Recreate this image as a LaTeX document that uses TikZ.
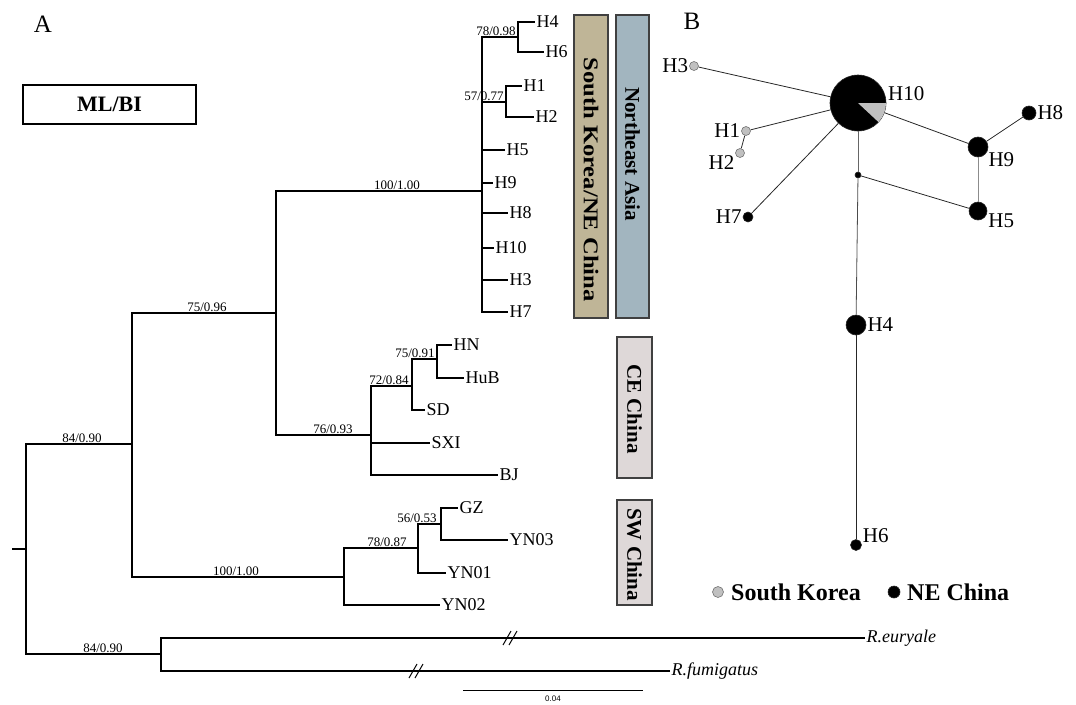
\documentclass[tikz,border=0pt]{standalone}
\usepackage{fontspec}
\setmainfont{Liberation Serif}
\setsansfont{Liberation Sans}
\definecolor{sktan}{RGB}{191,181,151}
\definecolor{neblue}{RGB}{162,181,191}
\definecolor{chbox}{RGB}{222,216,216}
\definecolor{skgray}{RGB}{192,192,192}
\begin{document}
\begin{tikzpicture}[x=1pt,y=-1pt,
  br/.style={line width=1.5pt},
  tip/.style={anchor=west, inner sep=1.5pt, font=\fontsize{18}{20}\selectfont},
  bs/.style={anchor=south, inner sep=1.5pt, font=\fontsize{13}{14}\selectfont},
  bar/.style={draw=black!75, line width=1.2pt, rotate=-90, inner sep=0pt, font=\fontsize{21}{23}\selectfont\bfseries},
  hap/.style={circle, inner sep=0pt, draw=black!85, line width=0.6pt},
  skhap/.style={hap, fill=skgray, draw=black!55},
  nehap/.style={hap, fill=black},
  nl/.style={font=\fontsize{21}{23}\selectfont, inner sep=1pt},
  lk/.style={draw=black!85, line width=0.8pt}]
\useasboundingbox (0,0) rectangle (1076,704);

\node[font=\fontsize{25}{27}\selectfont] (pa) at (43,24) {A};
\node[font=\fontsize{25}{27}\selectfont] (pb) at (692,21) {B};
\node[draw, line width=1.5pt, minimum width=173pt, minimum height=39pt, font=\fontsize{22}{24}\selectfont\bfseries] (mlbi) at (109.5,104.5) {ML/BI};

\coordinate (r0) at (12,549);
\coordinate (r) at (26,549);
\coordinate (ing) at (132,444);
\coordinate (out) at (161,654);
\coordinate (nc) at (276,313);
\coordinate (sw) at (344,577);
\coordinate (ne) at (482,191);
\coordinate (ce) at (371,435);
\coordinate (n46) at (518,37);
\coordinate (n12) at (506,102);
\coordinate (c72) at (412,386);
\coordinate (c75) at (437,359);
\coordinate (s78) at (418,548);
\coordinate (s56) at (441,524);

\node[tip] (tH4) at (535,22) {H4};
\node[tip] (tH6) at (544,52) {H6};
\node[tip] (tH1) at (522,86) {H1};
\node[tip] (tH2) at (534,117) {H2};
\node[tip] (tH5) at (505,150) {H5};
\node[tip] (tH9) at (493,183) {H9};
\node[tip] (tH8) at (508,213) {H8};
\node[tip] (tH10) at (494,248) {H10};
\node[tip] (tH3) at (508,280) {H3};
\node[tip] (tH7) at (508,312) {H7};
\node[tip] (tHN) at (452,345) {HN};
\node[tip] (tHuB) at (464,378) {HuB};
\node[tip] (tSD) at (425,410) {SD};
\node[tip] (tSXI) at (430,443) {SXI};
\node[tip] (tBJ) at (498,475) {BJ};
\node[tip] (tGZ) at (458,508) {GZ};
\node[tip] (tYN03) at (508,540) {YN03};
\node[tip] (tYN01) at (446,573) {YN01};
\node[tip] (tYN02) at (440,605) {YN02};
\node[tip, font=\fontsize{18}{20}\selectfont\itshape] (teur) at (865,638) {R.euryale};
\node[tip, font=\fontsize{18}{20}\selectfont\itshape] (tfum) at (670,671) {R.fumigatus};

\draw[br] (r0) -- (r);
\draw[br] (r) |- (ing);
\draw[br] (r) |- (out);
\draw[br] (ing) |- (nc);
\draw[br] (ing) |- (sw);
\draw[br] (nc) |- (ne);
\draw[br] (nc) |- (ce);
\draw[br] (ne) |- (n46);
\draw[br] (ne) |- (n12);
\foreach \t in {tH5,tH9,tH8,tH10,tH3,tH7}
  \draw[br] (ne) |- (\t);
\draw[br] (n46) |- (tH4);
\draw[br] (n46) |- (tH6);
\draw[br] (n12) |- (tH1);
\draw[br] (n12) |- (tH2);
\draw[br] (ce) |- (c72);
\draw[br] (ce) |- (tSXI);
\draw[br] (ce) |- (tBJ);
\draw[br] (c72) |- (c75);
\draw[br] (c72) |- (tSD);
\draw[br] (c75) |- (tHN);
\draw[br] (c75) |- (tHuB);
\draw[br] (sw) |- (s78);
\draw[br] (sw) |- (tYN02);
\draw[br] (s78) |- (s56);
\draw[br] (s78) |- (tYN01);
\draw[br] (s56) |- (tGZ);
\draw[br] (s56) |- (tYN03);
\draw[br] (out) |- (teur);
\draw[br] (out) |- (tfum);
\draw[line width=1pt] (503,645) -- (511,631) (509,645) -- (517,631);
\draw[line width=1pt] (409,678) -- (417,664) (415,678) -- (423,664);

\node[bs] (b1) at (82,444) {84/0.90};
\node[bs] (b2) at (103,654) {84/0.90};
\node[bs] (b3) at (207,313) {75/0.96};
\node[bs] (b4) at (397,191) {100/1.00};
\node[bs] (b5) at (236,577) {100/1.00};
\node[bs] (b6) at (333,435) {76/0.93};
\node[bs] (b7) at (389,386) {72/0.84};
\node[bs] (b8) at (415,359) {75/0.91};
\node[bs] (b9) at (387,548) {78/0.87};
\node[bs] (b10) at (417,524) {56/0.53};
\node[bs] (b11) at (496,37) {78/0.98};
\node[bs] (b12) at (484,102) {57/0.77};

\node[bar, fill=sktan, minimum width=303pt, minimum height=34pt] (bsk) at (591,166.5) {\hspace*{26pt}\scalebox{1.17}[1]{South Korea/NE China}};
\node[bar, fill=neblue, minimum width=303pt, minimum height=33pt] (bna) at (632.5,166.5) {Northeast Asia\hspace*{25pt}};
\node[bar, fill=chbox, minimum width=141pt, minimum height=35pt] (bce) at (634.5,407.5) {\hspace*{3pt}CE China};
\node[bar, fill=chbox, minimum width=105pt, minimum height=35pt] (bsw) at (634.5,552.5) {\hspace*{4pt}SW China};

\coordinate (sc1) at (463,690);
\coordinate (sc2) at (643,690);
\draw[line width=0.6pt] (sc1) -- (sc2) node[midway, below=2pt, font=\sffamily\fontsize{8}{9}\selectfont] (sclab) {0.04};

\node[nehap, minimum size=56pt] (hH10) at (858,103) {};
\fill[skgray] (hH10.center) -- ++(28pt,0pt) arc[start angle=0, end angle=-43, radius=28pt] -- cycle;
\node[nl, anchor=west] (lH10) at (887,94) {H10};
\node[skhap, minimum size=9pt, label={[nl]west:H3}] (hH3) at (694,66) {};
\node[skhap, minimum size=9pt, label={[nl]west:H1}] (hH1) at (746,131) {};
\node[skhap, minimum size=9pt, label={[nl]200:H2}] (hH2) at (740,153) {};
\node[nehap, minimum size=10pt, label={[nl]west:H7}] (hH7) at (748,217) {};
\node[nehap, minimum size=14pt, label={[nl]0:H8}] (hH8) at (1029,113) {};
\node[nehap, minimum size=20pt, label={[nl]-25:H9}] (hH9) at (978,147) {};
\node[nehap, minimum size=18pt, label={[nl]-10:H5}] (hH5) at (978,211) {};
\node[nehap, minimum size=6pt] (mv) at (858,175) {};
\node[nehap, minimum size=20pt, label={[nl]0:H4}] (hH4) at (856,325) {};
\node[nehap, minimum size=11pt, label={[nl]10:H6}] (hH6) at (856,545) {};

\draw[lk] (hH3) -- (hH10);
\draw[lk] (hH1) -- (hH10);
\draw[lk] (hH1) -- (hH2);
\draw[lk] (hH7) -- (hH10);
\draw[lk] (hH10) -- (hH9);
\draw[lk] (hH9) -- (hH8);
\draw[lk, draw=black!45] (hH9) -- (hH5);
\draw[lk, draw=black!60] (hH10) -- (mv);
\draw[lk] (mv) -- (hH5);
\draw[lk, draw=black!70] (mv) -- (hH4);
\draw[lk] (hH4) -- (hH6);

\node[skhap, minimum size=11pt] (lsk) at (718,592) {};
\node[anchor=west, inner sep=1pt, font=\fontsize{24}{26}\selectfont\bfseries] (lskt) at (730,592) {South Korea};
\node[nehap, minimum size=12pt] (lne) at (894,592) {};
\node[anchor=west, inner sep=1pt, font=\fontsize{24}{26}\selectfont\bfseries] (lnet) at (906,592) {NE China};
\end{tikzpicture}
\end{document}
